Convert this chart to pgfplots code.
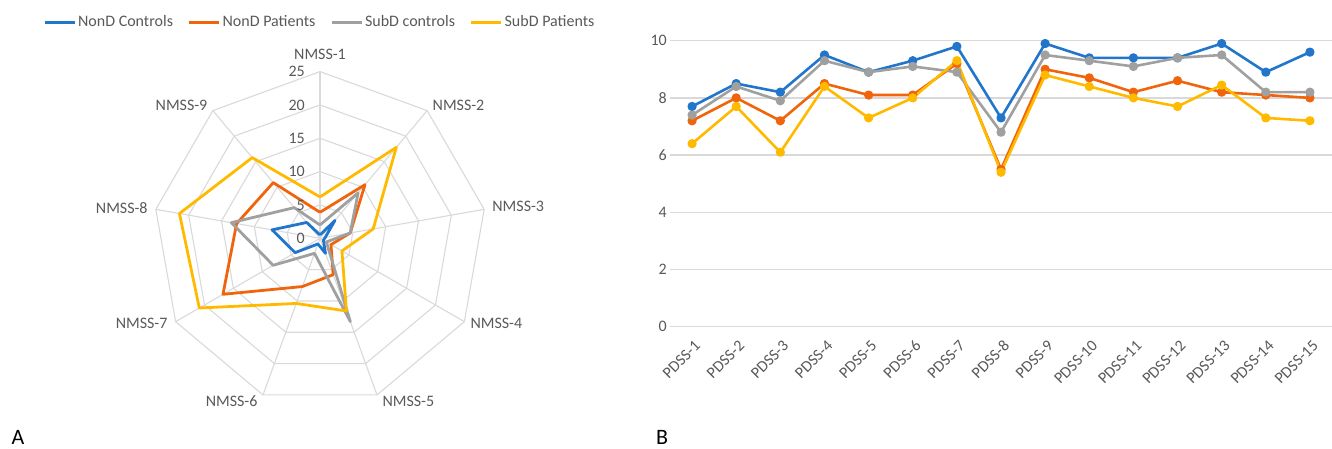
\documentclass[border=0pt]{standalone}
\usepackage{fontspec}
\setmainfont{Carlito}
\usepackage{pgfplots}
\usepackage{pgfplotstable}
\pgfplotsset{compat=1.18}
\usepgfplotslibrary{polar}
\definecolor{cblue}{RGB}{33,118,204}
\definecolor{corange}{RGB}{240,100,12}
\definecolor{cgray}{RGB}{160,160,160}
\definecolor{cyellow}{RGB}{255,186,0}
\definecolor{gridc}{RGB}{217,217,217}
\definecolor{txt}{RGB}{89,89,89}

\pgfplotstableread{
a blue orange gray yellow
90 0.5 3.9 2.0 6.2
50 3.5 10.5 8.9 17.8
10 0.8 4.6 4.6 8.1
-30 0.6 1.9 1.1 3.8
-70 2.4 5.8 13.3 11.6
-110 0.9 7.7 2.4 10.4
-150 4.3 16.8 8.1 20.9
-190 7.3 12.7 13.5 21.4
-230 3.1 10.9 6.0 15.8
-270 0.5 3.9 2.0 6.2
}\radardata

\pgfplotstableread{
x blue orange gray yellow
1 7.7 7.2 7.4 6.4
2 8.5 8.0 8.4 7.7
3 8.2 7.2 7.9 6.1
4 9.5 8.5 9.3 8.4
5 8.9 8.1 8.9 7.3
6 9.3 8.1 9.1 8.0
7 9.8 9.2 8.9 9.3
8 7.3 5.5 6.8 5.4
9 9.9 9.0 9.5 8.8
10 9.4 8.7 9.3 8.4
11 9.4 8.2 9.1 8.0
12 9.4 8.6 9.4 7.7
13 9.9 8.2 9.5 8.45
14 8.9 8.1 8.2 7.3
15 9.6 8.0 8.2 7.2
}\linedata

\begin{document}
\fontsize{16}{19}\selectfont
\begin{tikzpicture}[font=\fontsize{16}{19}\selectfont, text=txt]
\path[use as bounding box] (0pt,0pt) rectangle (1332pt,449pt);

\begin{polaraxis}[
  at={(320pt,210.7pt)}, anchor=center,
  width=333.4pt, height=333.4pt, scale only axis,
  ymin=0, ymax=25,
  hide axis, clip=false,
  legend columns=4,
  legend style={at={(0.5,1.148)}, anchor=center, draw=none, fill=none,
    font=\fontsize{16}{19}\selectfont, text=txt,
    /tikz/every even column/.append style={column sep=13pt},
    /tikz/every odd column/.append style={column sep=0pt},
    inner sep=0pt},
  legend image code/.code={\draw[#1, line width=2.6pt] (0pt,0pt) -- (30pt,0pt);},
]
\pgfplotsinvokeforeach{5,10,15,20,25}{
  \addplot[gridc, line width=1.1pt, forget plot] coordinates {(90,#1)(50,#1)(10,#1)(-30,#1)(-70,#1)(-110,#1)(-150,#1)(-190,#1)(-230,#1)(-270,#1)};
}
\pgfplotsinvokeforeach{90,50,10,-30,-70,-110,-150,-190,-230}{
  \addplot[gridc, line width=1.1pt, forget plot] coordinates {(#1,0)(#1,25)};
}
\addplot[cblue, line width=2.8pt, line join=round] table[x=a, y=blue] {\radardata};
\addlegendentry{NonD Controls}
\addplot[corange, line width=2.8pt, line join=round] table[x=a, y=orange] {\radardata};
\addlegendentry{NonD Patients}
\addplot[cgray, line width=2.8pt, line join=round] table[x=a, y=gray] {\radardata};
\addlegendentry{SubD controls}
\addplot[cyellow, line width=2.8pt, line join=round] table[x=a, y=yellow] {\radardata};
\addlegendentry{SubD Patients}

\pgfplotsinvokeforeach{0,5,10,15,20,25}{
  \node[anchor=east, inner sep=0pt, xshift=-15pt] at (axis cs:90,#1) {#1};
}
\node[anchor=south, yshift=6pt] at (axis cs:90,25) {NMSS-1};
\node[anchor=west, yshift=5.5pt] at (axis cs:50,25) {NMSS-2};
\node[anchor=west, xshift=2.7pt, yshift=2.7pt] at (axis cs:10,25) {NMSS-3};
\node[anchor=west, xshift=0.7pt, yshift=-1.3pt] at (axis cs:-30,25) {NMSS-4};
\node[anchor=north west, yshift=4.5pt] at (axis cs:-70,25) {NMSS-5};
\node[anchor=north east, yshift=4.5pt] at (axis cs:-110,25) {NMSS-6};
\node[anchor=east, xshift=-2.7pt, yshift=-1.3pt] at (axis cs:-150,25) {NMSS-7};
\node[anchor=east, xshift=-2.7pt, yshift=1pt] at (axis cs:-190,25) {NMSS-8};
\node[anchor=east, yshift=5pt] at (axis cs:-230,25) {NMSS-9};
\end{polaraxis}

\begin{axis}[
  at={(670pt,122.3pt)}, anchor=south west,
  width=662pt, height=286pt, scale only axis,
  xmin=0.5, xmax=15.5, ymin=0, ymax=10,
  xtick={1,...,15},
  xticklabels={PDSS-1,PDSS-2,PDSS-3,PDSS-4,PDSS-5,PDSS-6,PDSS-7,PDSS-8,PDSS-9,PDSS-10,PDSS-11,PDSS-12,PDSS-13,PDSS-14,PDSS-15},
  ytick={0,2,...,10},
  ymajorgrids, grid style={gridc, line width=1.3pt},
  axis line style={draw=none}, major tick length=0pt,
  tick label style={font=\fontsize{16}{19}\selectfont, text=txt},
  /pgf/number format/assume math mode=true,
  xticklabel style={xshift=7pt, yshift=-15pt, rotate=45, anchor=east, inner sep=2pt},
  yticklabel style={inner sep=2pt, xshift=-1pt},
  clip=false,
]
\addplot[cblue, line width=2.6pt, line join=round, mark=*, mark size=3.3pt] table[x=x, y=blue] {\linedata};
\addplot[corange, line width=2.6pt, line join=round, mark=*, mark size=3.3pt] table[x=x, y=orange] {\linedata};
\addplot[cgray, line width=2.6pt, line join=round, mark=*, mark size=3.3pt] table[x=x, y=gray] {\linedata};
\addplot[cyellow, line width=2.6pt, line join=round, mark=*, mark size=3.3pt] table[x=x, y=yellow] {\linedata};
\end{axis}

\node[font=\fontsize{22}{26}\selectfont, text=black] at (18pt,12pt) {A};
\node[font=\fontsize{22}{26}\selectfont, text=black] at (662pt,12pt) {B};
\end{tikzpicture}
\end{document}
